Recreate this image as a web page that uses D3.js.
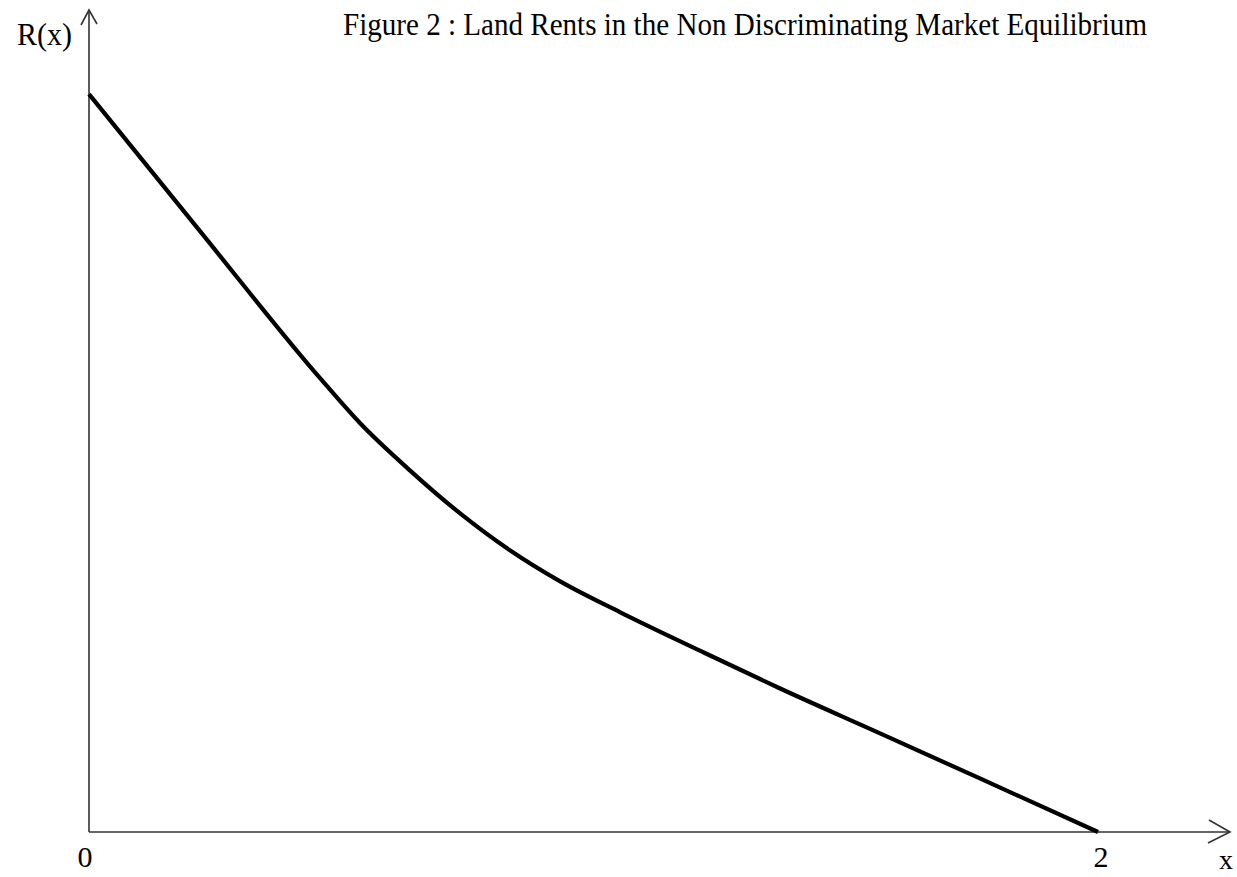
<!DOCTYPE html>
<html>
<head>
<meta charset="utf-8">
<script src="https://cdn.jsdelivr.net/npm/d3@7"></script>
<style>
  html, body { margin: 0; padding: 0; background: #fff; }
  text { font-family: "Liberation Serif", "Times New Roman", serif; fill: #000; }
</style>
</head>
<body>
<div id="container"></div>
<script>
// distance from centre (x) and land rent R(x)
var xValues = [0, 0.220, 0.458, 0.537, 0.636, 0.735, 0.835, 0.934, 1.053, 1.211,
               1.370, 1.568, 1.767, 2.0];
var rentValues = [1.481, 1.206, 0.911, 0.821, 0.726, 0.640, 0.565, 0.503, 0.441, 0.364,
                  0.288, 0.198, 0.107, 0];
var xTicks = [0, 2];
var titleText = "Figure 2 : Land Rents in the Non Discriminating Market Equilibrium";

var WIDTH = 1237, HEIGHT = 877;

var svg = d3.select('#container').append('svg')
    .attr('width', WIDTH).attr('height', HEIGHT);

var x = d3.scaleLinear().domain([0, 2]).range([89, 1098]);
var y = d3.scaleLinear().domain([0, 1.65]).range([832, 10]);

var data = xValues.map(function(d, i) { return {x: d, r: rentValues[i]}; });

// axes with open arrow heads
var yTop = y.range()[1];
var axes = svg.append('g').attr('stroke', '#333').attr('stroke-width', 1.6).attr('fill', 'none');
axes.append('line').attr('x1', x(0)).attr('y1', y(0)).attr('x2', x(0)).attr('y2', yTop);
axes.append('line').attr('x1', x(0)).attr('y1', y(0)).attr('x2', 1230).attr('y2', y(0));
axes.append('path')
    .attr('d', 'M' + (x(0) - 8) + ',' + (yTop + 15) + 'L' + x(0) + ',' + yTop + 'L' + (x(0) + 8) + ',' + (yTop + 14));
axes.append('path')
    .attr('d', 'M1209,820L1230,' + y(0) + 'L1208,843');

// rent curve
var line = d3.line()
    .x(function(d) { return x(d.x); })
    .y(function(d) { return y(d.r); })
    .curve(d3.curveMonotoneX);

svg.append('path')
    .datum(data)
    .attr('d', line)
    .attr('fill', 'none')
    .attr('stroke', '#000')
    .attr('stroke-width', 4.2)
    .attr('stroke-linejoin', 'round');

// tick labels
svg.selectAll('text.tick')
    .data(xTicks)
    .enter().append('text')
    .attr('class', 'tick')
    .attr('x', function(d) { return d === 0 ? x(d) - 4 : x(d) + 3; })
    .attr('y', 867)
    .attr('text-anchor', 'middle')
    .style('font-size', '30px')
    .text(function(d) { return d; });

svg.append('text').attr('x', 1226).attr('y', 869).attr('text-anchor', 'middle')
    .style('font-size', '28px').text('x');

svg.append('text').attr('x', 17).attr('y', 45)
    .attr('textLength', 55).attr('lengthAdjust', 'spacingAndGlyphs')
    .style('font-size', '31px').text('R(x)');

svg.append('text').attr('x', 343).attr('y', 35)
    .attr('textLength', 804).attr('lengthAdjust', 'spacingAndGlyphs')
    .style('font-size', '31px').text(titleText);
</script>
</body>
</html>
